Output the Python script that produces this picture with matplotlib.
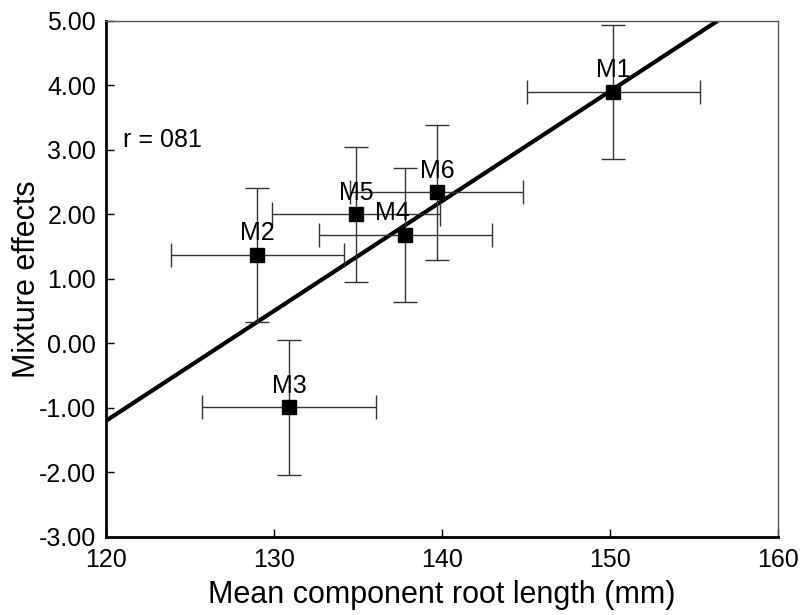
import matplotlib
matplotlib.use('Agg')
import matplotlib.pyplot as plt

plt.rcParams['font.family'] = ['Liberation Sans', 'DejaVu Sans']

# mixtures
labels = ['M1', 'M2', 'M3', 'M4', 'M5', 'M6']
root_len = [150.2, 129.0, 130.9, 137.8, 134.9, 139.7]
root_err = [5.15, 5.15, 5.2, 5.15, 5.0, 5.15]
effects = [3.90, 1.37, -0.99, 1.68, 2.00, 2.34]
effect_err = [1.04, 1.04, 1.05, 1.04, 1.05, 1.04]
label_offsets = [(0, 7), (0, 7), (0, 7), (-9, 7), (0, 7), (0, 7)]

# regression line end points
line_x = [120, 156.4]
line_y = [-1.2, 5.0]

fig = plt.figure(figsize=(8, 6.15), dpi=100)
ax = fig.add_axes([0.1325, 0.127, 0.84, 0.839])

ax.plot(line_x, line_y, color='black', lw=3, solid_capstyle='butt', zorder=2)
ax.errorbar(root_len, effects, xerr=root_err, yerr=effect_err, fmt='none',
            ecolor='#333333', elinewidth=1, capsize=8.5, capthick=1, zorder=3)
ax.plot(root_len, effects, 's', color='black', markersize=10, zorder=4)

for lab, x, y, off in zip(labels, root_len, effects, label_offsets):
    ax.annotate(lab, (x, y), xytext=off, textcoords='offset points',
                ha='center', va='bottom', fontsize=18, zorder=5)

ax.text(121, 3.15, 'r = 081', fontsize=18, va='center')

ax.set_xlim(120, 160)
ax.set_ylim(-3, 5)
ax.set_xticks([120, 130, 140, 150, 160])
ax.set_yticks(range(-3, 6))
ax.set_yticklabels(['%.2f' % v for v in range(-3, 6)])
ax.tick_params(direction='in', length=6, labelsize=18, width=1)
ax.tick_params(axis='x', pad=8)
ax.tick_params(axis='y', pad=7)

for side in ['left', 'bottom']:
    ax.spines[side].set_linewidth(2)
for side in ['top', 'right']:
    ax.spines[side].set_linewidth(1)
    ax.spines[side].set_color('#555555')

ax.set_xlabel('Mean component root length (mm)', fontsize=22, labelpad=6)
ax.set_ylabel('Mixture effects', fontsize=22, labelpad=-2)

fig.savefig('out.png', dpi=100)
